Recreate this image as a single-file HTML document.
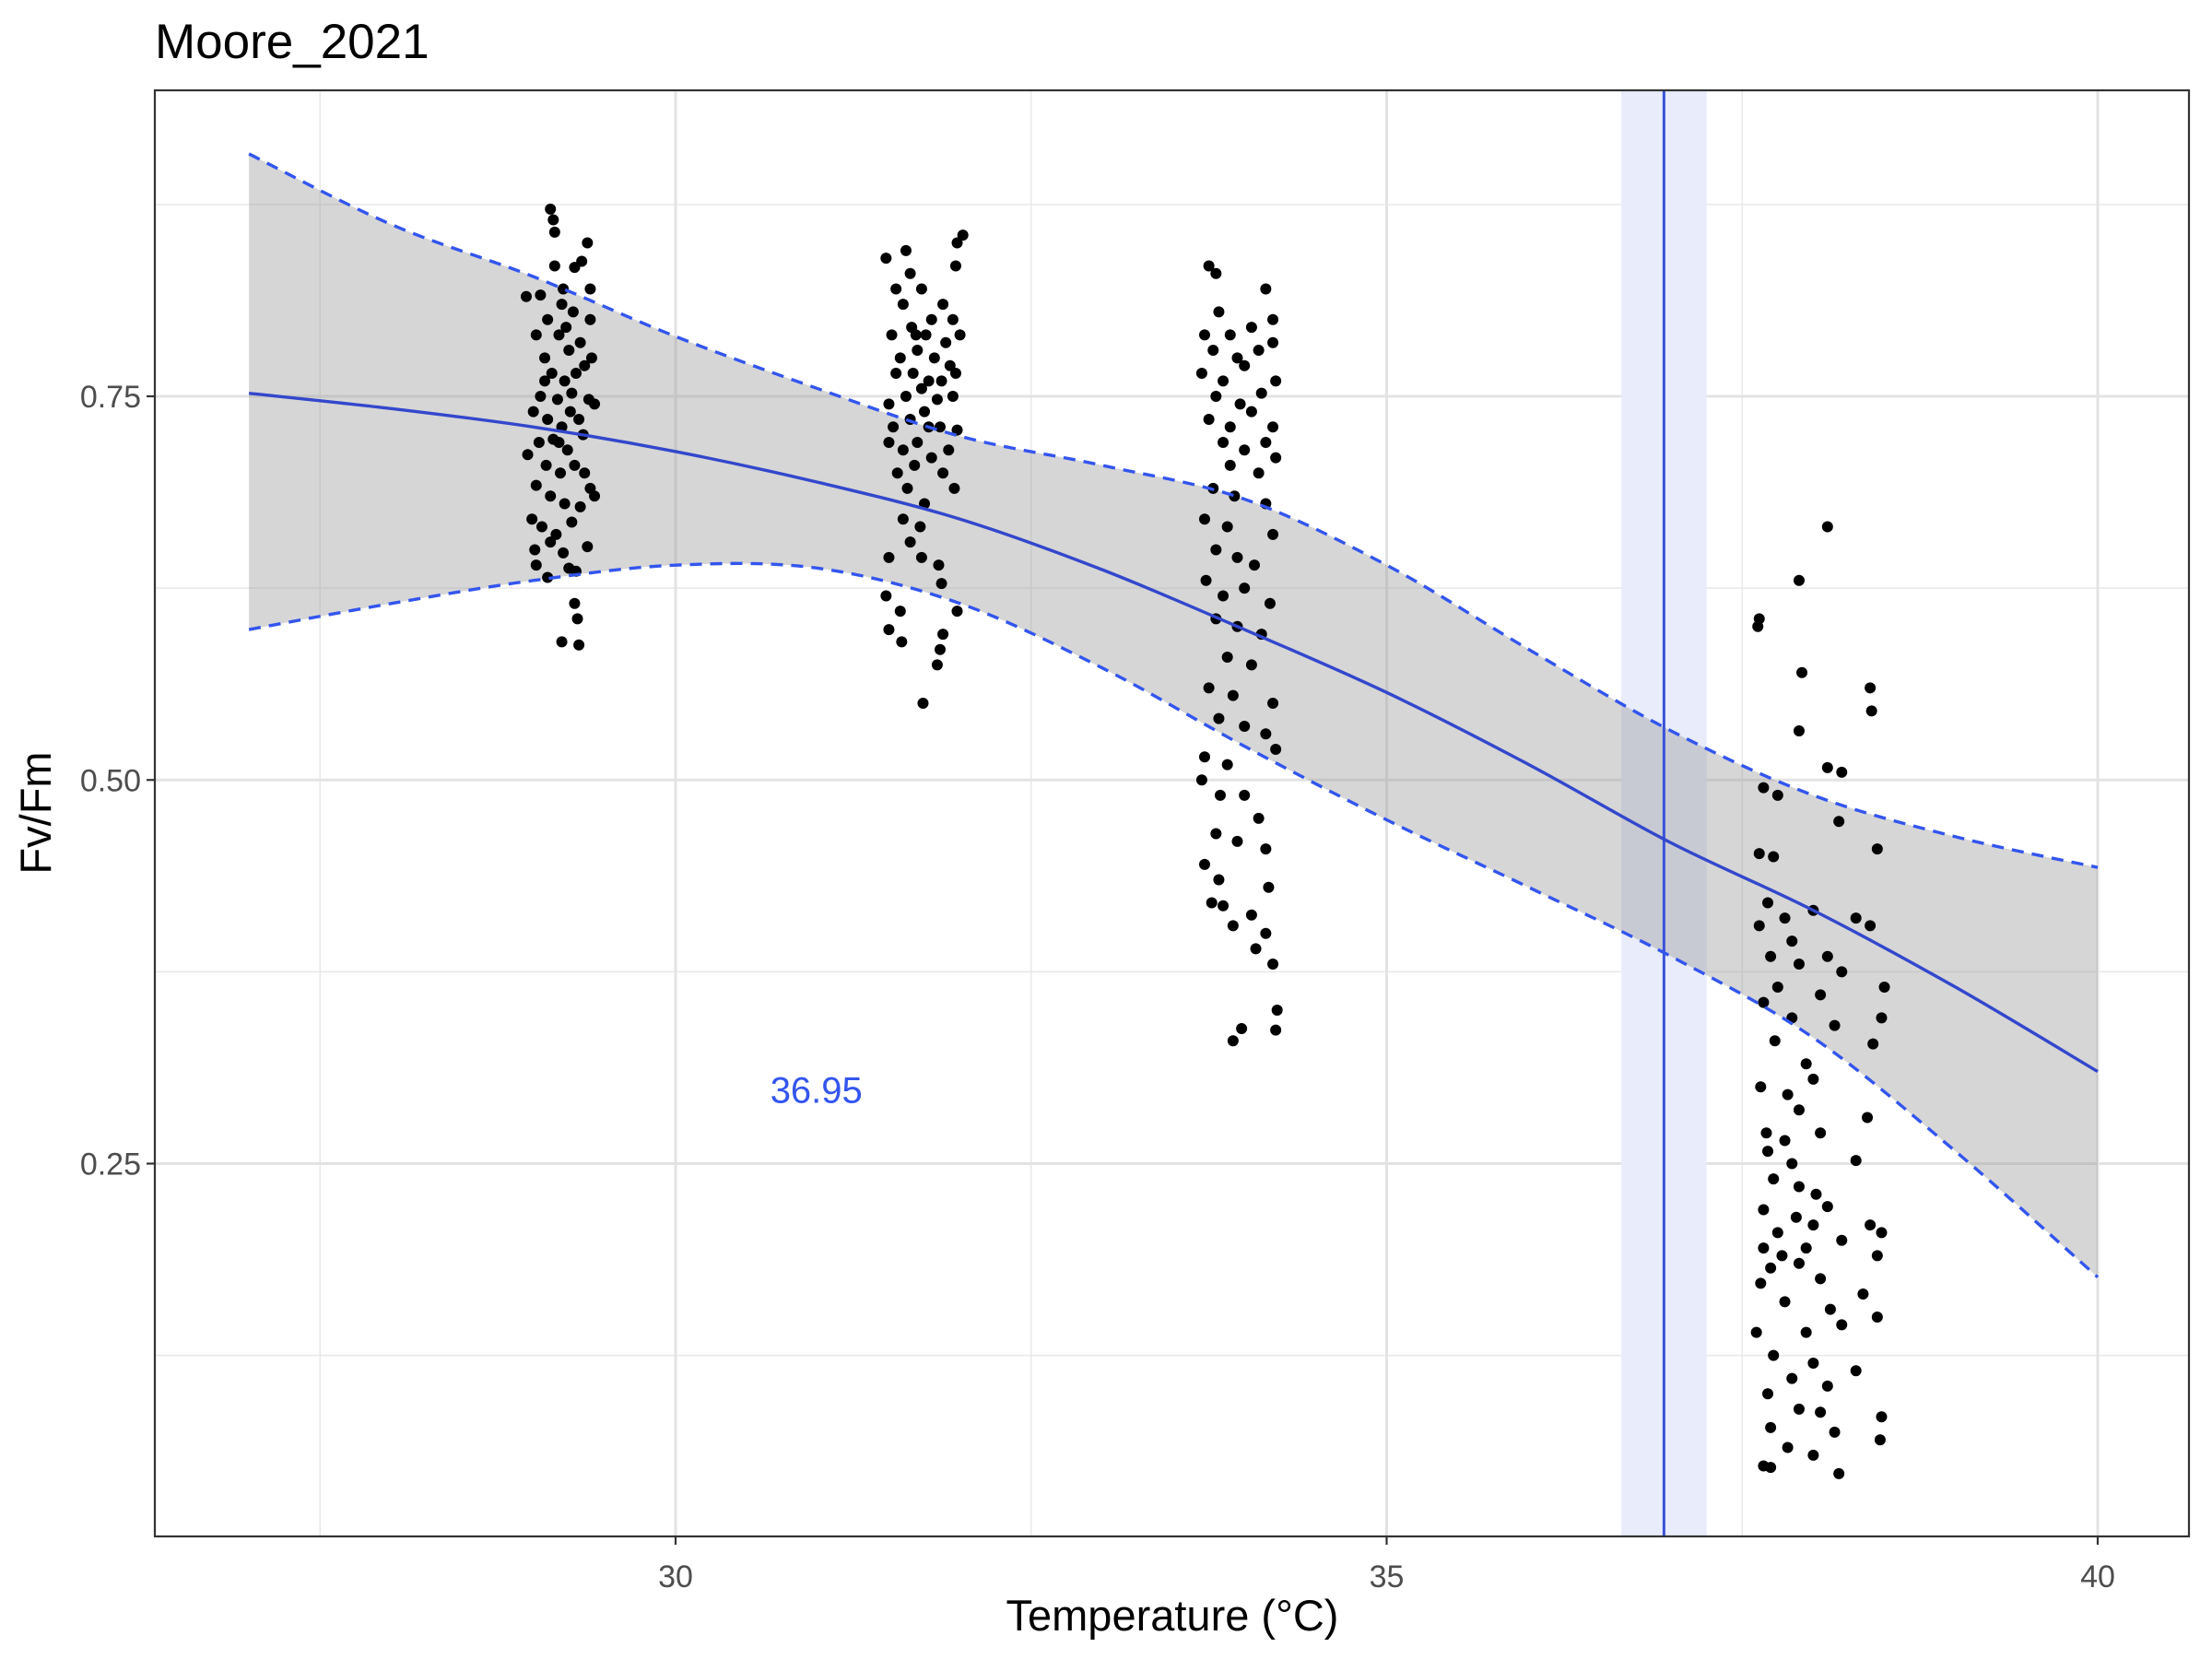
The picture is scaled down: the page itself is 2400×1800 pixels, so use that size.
<!DOCTYPE html>
<html><head><meta charset="utf-8">
<style>
html,body{margin:0;padding:0;background:#fff;}
svg{display:block;font-family:"Liberation Sans",Arial,sans-serif;}
</style></head>
<body>
<svg id="chart" width="2400" height="1800" viewBox="0 0 2400 1800" xmlns="http://www.w3.org/2000/svg">
<rect width="2400" height="1800" fill="#fff"/>
<text x="168" y="63" font-size="53" fill="#000">Moore_2021</text>
<g id="grid"></g>
<g id="ribbon"></g>
<g id="pts"></g>
<g id="lines"></g>
<rect x="168" y="98" width="2207" height="1569" fill="none" stroke="#333" stroke-width="2.2"/>
<g id="axes"></g>
<text x="1272" y="1769" font-size="47" text-anchor="middle" fill="#000">Temperature (°C)</text>
<text transform="translate(55,882) rotate(-90)" font-size="47" text-anchor="middle" fill="#000">Fv/Fm</text>
</svg>
<script>
const xTicks=[30,35,40];
const xMinor=[27.5,32.5,37.5];
const yTicks=[0.25,0.5,0.75];
const yTickLabels=["0.25","0.50","0.75"];
const yMinor=[0.125,0.375,0.625,0.875];
const fitX=[27.0,28,29,30,31,32,33,34,35,36,37,38,39,40];
const fitY=[0.752,0.742,0.730,0.714,0.694,0.670,0.637,0.598,0.557,0.510,0.459,0.415,0.365,0.310];
const upperY=[0.908,0.862,0.828,0.789,0.755,0.724,0.705,0.683,0.640,0.585,0.532,0.490,0.463,0.443];
const lowerY=[0.598,0.615,0.630,0.640,0.638,0.615,0.573,0.522,0.474,0.430,0.385,0.332,0.258,0.176];
const threshold=36.95;
const thresholdLow=36.65;
const thresholdHigh=37.25;
const thresholdLabel="36.95";
const ptsX=[29.12,29.14,29.15,29.38,29.15,29.29,29.34,29.05,29.21,29.40,29.1,29.2,29.28,28.95,29.02,29.18,29.33,29.08,29.25,29.36,29.41,29.13,29.22,29.3,29.05,29.17,29.27,29.39,29.0,29.1,29.2,29.32,29.43,29.04,29.14,29.24,29.35,28.96,29.09,29.19,29.29,29.4,29.02,29.12,29.22,29.33,29.43,29.06,29.16,29.27,29.01,29.12,29.21,29.38,29.02,29.1,29.25,29.3,29.29,29.31,29.2,29.32,29.18,29.26,29.08,29.36,28.99,29.23,29.4,
31.48,31.62,32.02,31.98,31.65,31.97,31.55,31.73,31.88,31.6,31.8,31.95,31.52,31.66,31.76,31.9,32.0,31.58,31.7,31.82,31.93,31.55,31.67,31.78,31.87,31.97,31.5,31.62,31.73,31.84,31.95,31.53,31.65,31.75,31.86,31.98,31.5,31.6,31.7,31.8,31.92,31.56,31.68,31.88,31.63,31.75,31.96,31.6,31.72,31.65,31.73,31.5,31.85,31.87,31.98,31.48,31.58,31.88,31.5,31.59,31.86,31.84,31.74,31.69,31.78,
33.75,33.8,34.15,33.82,34.2,33.72,33.9,34.05,34.2,33.78,33.95,34.1,33.7,33.85,34.0,34.22,33.8,33.97,34.12,33.75,33.9,34.05,34.2,33.85,34.0,34.15,33.9,34.1,34.22,33.78,33.93,34.15,33.72,33.88,34.2,33.8,33.95,34.07,33.73,33.85,34.0,34.18,33.8,33.95,34.12,33.88,34.05,33.75,33.92,34.2,33.82,34.0,34.15,33.72,33.88,34.22,33.7,33.83,34.0,34.1,33.8,33.95,34.15,33.72,33.82,34.17,33.77,33.85,34.05,33.92,34.15,34.08,34.2,34.23,33.98,33.92,34.22,
38.1,37.9,37.62,37.61,37.92,38.4,38.41,37.9,38.1,38.2,37.65,37.75,38.18,37.62,37.72,38.45,37.68,37.8,38.0,37.62,37.85,38.3,38.4,37.7,37.9,38.1,38.2,37.75,38.05,38.5,37.65,37.85,38.15,38.48,37.73,38.42,37.95,37.63,37.82,38.0,37.9,38.38,37.67,37.8,38.05,37.68,37.85,38.3,37.72,37.9,38.02,37.65,37.88,38.1,37.75,38.0,38.4,38.48,37.65,37.78,37.95,38.2,37.7,37.9,38.45,37.63,38.05,38.35,37.8,38.12,38.45,37.6,37.95,38.2,37.72,38.0,37.85,38.1,38.3,37.68,37.9,38.05,37.7,38.15,38.48,37.82,38.47,37.65,38.0,37.7,38.18];
const ptsY=[0.872,0.865,0.857,0.85,0.835,0.834,0.838,0.816,0.82,0.82,0.80,0.81,0.805,0.815,0.79,0.79,0.785,0.775,0.78,0.77,0.775,0.765,0.76,0.765,0.75,0.748,0.752,0.748,0.74,0.735,0.73,0.735,0.745,0.72,0.722,0.715,0.725,0.712,0.705,0.7,0.705,0.69,0.692,0.685,0.68,0.678,0.685,0.665,0.66,0.668,0.65,0.655,0.648,0.652,0.64,0.632,0.638,0.636,0.615,0.605,0.59,0.588,0.72,0.74,0.76,0.7,0.67,0.795,0.8,
0.84,0.845,0.855,0.85,0.83,0.835,0.82,0.82,0.81,0.81,0.8,0.8,0.79,0.795,0.79,0.785,0.79,0.775,0.78,0.775,0.77,0.765,0.765,0.76,0.76,0.765,0.745,0.75,0.755,0.748,0.75,0.73,0.735,0.74,0.73,0.728,0.72,0.715,0.72,0.71,0.715,0.7,0.705,0.7,0.69,0.68,0.69,0.67,0.665,0.655,0.645,0.645,0.64,0.628,0.61,0.62,0.61,0.595,0.598,0.59,0.585,0.575,0.55,0.79,0.73,
0.835,0.83,0.82,0.805,0.8,0.79,0.79,0.795,0.785,0.78,0.775,0.78,0.765,0.76,0.77,0.76,0.75,0.745,0.752,0.735,0.73,0.74,0.73,0.72,0.715,0.72,0.705,0.7,0.71,0.69,0.685,0.68,0.67,0.665,0.66,0.65,0.645,0.64,0.63,0.62,0.625,0.615,0.605,0.6,0.595,0.58,0.575,0.56,0.555,0.55,0.54,0.535,0.53,0.515,0.51,0.52,0.5,0.49,0.49,0.475,0.465,0.46,0.455,0.445,0.435,0.43,0.42,0.418,0.412,0.405,0.4,0.39,0.38,0.35,0.338,0.33,0.337,
0.665,0.63,0.605,0.6,0.57,0.56,0.545,0.532,0.508,0.505,0.495,0.49,0.473,0.452,0.45,0.455,0.42,0.41,0.415,0.405,0.395,0.41,0.405,0.385,0.38,0.385,0.375,0.365,0.36,0.365,0.355,0.345,0.34,0.345,0.33,0.328,0.315,0.3,0.295,0.305,0.285,0.28,0.27,0.265,0.27,0.258,0.25,0.252,0.24,0.235,0.23,0.22,0.215,0.222,0.205,0.21,0.21,0.205,0.195,0.19,0.195,0.2,0.182,0.185,0.19,0.172,0.175,0.165,0.16,0.155,0.15,0.14,0.14,0.145,0.125,0.12,0.11,0.105,0.115,0.1,0.09,0.088,0.078,0.075,0.085,0.065,0.07,0.053,0.06,0.052,0.048];

const NS="http://www.w3.org/2000/svg";
const L=168,R=2375,T=98,B=1667;
function xs(v){return 733+(v-30)*154.3;}
function ys(v){return 430+(0.75-v)*1665;}
function mk(tag,attrs,parent){const e=document.createElementNS(NS,tag);for(const k in attrs)e.setAttribute(k,attrs[k]);parent.appendChild(e);return e;}
function smooth(xv,yv){
  const p=xv.map((x,i)=>[xs(x),ys(yv[i])]);
  let d="M"+p[0][0]+","+p[0][1];
  for(let i=0;i<p.length-1;i++){
    const p0=p[i-1]||p[i],p1=p[i],p2=p[i+1],p3=p[i+2]||p2;
    const c1=[p1[0]+(p2[0]-p0[0])/6,p1[1]+(p2[1]-p0[1])/6];
    const c2=[p2[0]-(p3[0]-p1[0])/6,p2[1]-(p3[1]-p1[1])/6];
    d+=" C"+c1[0]+","+c1[1]+" "+c2[0]+","+c2[1]+" "+p2[0]+","+p2[1];
  }
  return d;
}
const grid=document.getElementById('grid');
yMinor.forEach(v=>{const e=mk('line',{x1:L,x2:R,y1:ys(v),y2:ys(v),stroke:'#e8e8e8','stroke-width':1.5},grid);

});
xMinor.forEach(v=>{const e=mk('line',{x1:xs(v),x2:xs(v),y1:T,y2:B,stroke:'#e8e8e8','stroke-width':1.5},grid);

});
yTicks.forEach(v=>{const e=mk('line',{x1:L,x2:R,y1:ys(v),y2:ys(v),stroke:'#e3e3e3','stroke-width':3},grid);

});
xTicks.forEach(v=>{const e=mk('line',{x1:xs(v),x2:xs(v),y1:T,y2:B,stroke:'#e3e3e3','stroke-width':3},grid);

});

const rib=document.getElementById('ribbon');
const band=mk('rect',{x:xs(thresholdLow),y:T,width:xs(thresholdHigh)-xs(thresholdLow),height:B-T,fill:'#e8ecfb'},rib);


const up=smooth(fitX,upperY);
const lo=smooth(fitX.slice().reverse(),lowerY.slice().reverse());
const area=mk('path',{d:up+" L"+lo.slice(1)+" Z",fill:'#999','fill-opacity':0.4},rib);



const pts=document.getElementById('pts');
ptsX.forEach((x,i)=>{const c=mk('circle',{cx:xs(x),cy:ys(ptsY[i]),r:6,fill:'#000'},pts);

});

const lines=document.getElementById('lines');
const vl=mk('line',{x1:xs(threshold),x2:xs(threshold),y1:T,y2:B,stroke:'#3a52d8','stroke-width':3},lines);


const fl=mk('path',{d:smooth(fitX,fitY),fill:'none',stroke:'#3347cc','stroke-width':3.4},lines);


const ul=mk('path',{d:up,fill:'none',stroke:'#3355ee','stroke-width':3.4,'stroke-dasharray':'13 9'},lines);


const ll=mk('path',{d:smooth(fitX,lowerY),fill:'none',stroke:'#3355ee','stroke-width':3.4,'stroke-dasharray':'13 9'},lines);


const tl=mk('text',{x:xs(30.99),y:ys(0.298)+14,'font-size':40,'text-anchor':'middle',fill:'#3355ee'},lines);
tl.textContent=thresholdLabel;



const axes=document.getElementById('axes');
xTicks.forEach(v=>{
  const t=mk('line',{x1:xs(v),x2:xs(v),y1:B,y2:B+9,stroke:'#333','stroke-width':2.2},axes);
  
  
  const l=mk('text',{x:xs(v),y:1722,'font-size':34,'text-anchor':'middle',fill:'#4d4d4d'},axes);
  l.textContent=String(v);
  
  
});
yTicks.forEach((v,i)=>{
  const t=mk('line',{x1:L-9,x2:L,y1:ys(v),y2:ys(v),stroke:'#333','stroke-width':2.2},axes);
  
  
  const l=mk('text',{x:L-15,y:ys(v)+12,'font-size':34,'text-anchor':'end',fill:'#4d4d4d'},axes);
  l.textContent=yTickLabels[i];
  
  
});
</script>
</body></html>
